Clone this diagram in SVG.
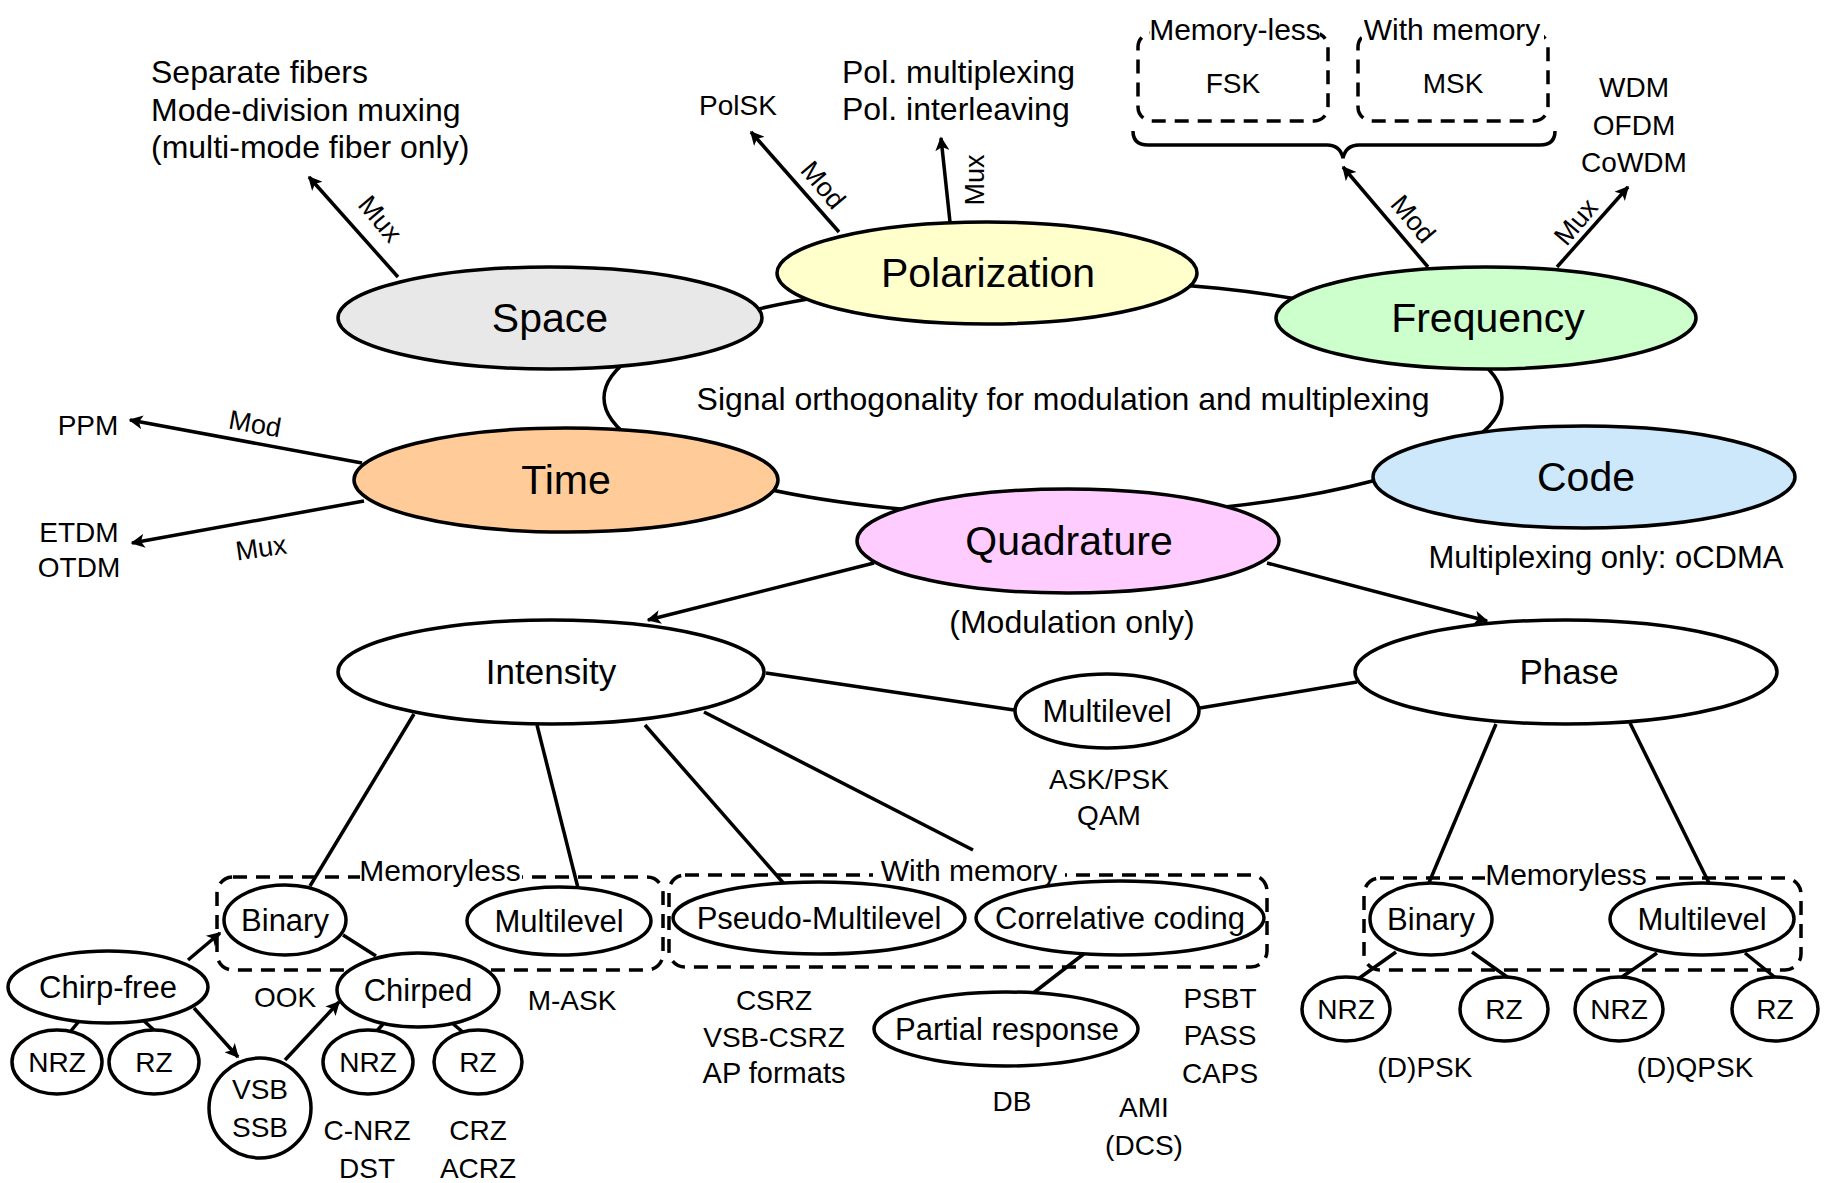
<svg xmlns="http://www.w3.org/2000/svg" width="1827" height="1183" viewBox="0 0 1827 1183">
<style>
text{font-family:"Liberation Sans",Arial,sans-serif;fill:#000}
.big{font-size:41px;text-anchor:middle}
.mid{font-size:35px;text-anchor:middle}
.sm{font-size:31px;text-anchor:middle}
.cap{font-size:28px;text-anchor:middle}
.t{font-size:30px}
.t2{font-size:32px}
.lab{font-size:27px;text-anchor:middle}
.e{stroke:#000;stroke-width:3.5}
.w{fill:#fff}
.ln{stroke:#000;stroke-width:3.5;fill:none}
.ar{stroke:#000;stroke-width:3.5;fill:none;marker-end:url(#ah)}
.dash{stroke:#000;stroke-width:3.5;fill:none;stroke-dasharray:14 9}
.bg{fill:#fff}
</style>
<defs>
<marker id="ah" viewBox="0 0 10 10" refX="9" refY="5" markerWidth="17" markerHeight="14" markerUnits="userSpaceOnUse" orient="auto">
<path d="M0,0 L10,5 L0,10 L2.5,5 z" fill="#000"/>
</marker>
</defs>
<rect width="1827" height="1183" fill="#fff"/>

<g id="boxes">
<rect class="dash" x="1138" y="33" width="190" height="88" rx="14"/>
<rect class="dash" x="1358" y="33" width="190" height="88" rx="14"/>
<rect class="bg" x="1150" y="15" width="170" height="32"/>
<rect class="bg" x="1362" y="15" width="182" height="32"/>
<path class="ln" d="M1133,131 Q1133,145 1148,145 L1327,145 Q1340,145 1343,158 Q1346,145 1359,145 L1540,145 Q1555,145 1555,131"/>
<rect class="dash" x="217" y="877" width="446" height="93" rx="16"/>
<rect class="dash" x="669" y="875" width="598" height="92" rx="16"/>
<rect class="dash" x="1364" y="878" width="437" height="92" rx="16"/>
<rect class="bg" x="360" y="862" width="162" height="26"/>
<rect class="bg" x="873" y="862" width="192" height="26"/>
<rect class="bg" x="1485" y="865" width="162" height="26"/>
</g>

<g id="connectors">
<ellipse class="ln" cx="1053" cy="398" rx="449" ry="118"/>
<line class="ar" x1="398" y1="277" x2="309" y2="177"/>
<line class="ar" x1="839" y1="232" x2="751" y2="132"/>
<line class="ar" x1="950" y1="222" x2="941" y2="138"/>
<line class="ar" x1="1428" y1="267" x2="1343" y2="167"/>
<line class="ar" x1="1557" y1="267" x2="1628" y2="187"/>
<line class="ar" x1="362" y1="463" x2="130" y2="420"/>
<line class="ar" x1="364" y1="501" x2="132" y2="543"/>
<line class="ar" x1="874" y1="563" x2="648" y2="620"/>
<line class="ar" x1="1267" y1="563" x2="1487" y2="621"/>
<line class="ln" x1="766" y1="673" x2="1014" y2="710"/>
<line class="ln" x1="1200" y1="708" x2="1357" y2="682"/>
<line class="ln" x1="414" y1="714" x2="310" y2="886"/>
<line class="ln" x1="537" y1="725" x2="578" y2="888"/>
<line class="ln" x1="645" y1="725" x2="786" y2="886"/>
<line class="ln" x1="704" y1="712" x2="973" y2="850"/>
<line class="ar" x1="188" y1="960" x2="220" y2="933"/>
<line class="ln" x1="343" y1="935" x2="376" y2="956"/>
<line class="ln" x1="80" y1="1020" x2="70" y2="1032"/>
<line class="ln" x1="143" y1="1020" x2="156" y2="1032"/>
<line class="ln" x1="383" y1="1024" x2="376" y2="1032"/>
<line class="ln" x1="452" y1="1023" x2="464" y2="1033"/>
<line class="ar" x1="194" y1="1008" x2="238" y2="1057"/>
<line class="ar" x1="285" y1="1060" x2="339" y2="1002"/>
<line class="ln" x1="1085" y1="953" x2="1032" y2="994"/>
<line class="ln" x1="1496" y1="724" x2="1428" y2="885"/>
<line class="ln" x1="1630" y1="723" x2="1710" y2="885"/>
<line class="ln" x1="1396" y1="952" x2="1358" y2="979"/>
<line class="ln" x1="1472" y1="952" x2="1510" y2="979"/>
<line class="ln" x1="1657" y1="953" x2="1619" y2="979"/>
<line class="ln" x1="1745" y1="953" x2="1777" y2="979"/>
</g>

<g id="edge-labels">
<text class="lab" transform="translate(380,219) rotate(50)" dy="9">Mux</text>
<text class="lab" transform="translate(823,185) rotate(50)" dy="9">Mod</text>
<text class="lab" transform="translate(975,180) rotate(-90)" dy="9">Mux</text>
<text class="lab" transform="translate(1413,219) rotate(50)" dy="9">Mod</text>
<text class="lab" transform="translate(1576,222) rotate(-50)" dy="9">Mux</text>
<text class="lab" transform="translate(255,424) rotate(10)" dy="9">Mod</text>
<text class="lab" transform="translate(261,548) rotate(-8)" dy="9">Mux</text>
</g>

<g id="n-space"><ellipse class="e" cx="550" cy="318" rx="212" ry="51" fill="#e8e8e8"/><text class="big" x="550" y="332">Space</text></g>
<g id="n-polarization"><ellipse class="e" cx="987" cy="273" rx="210" ry="51" fill="#ffffcc"/><text class="big" x="988" y="287">Polarization</text></g>
<g id="n-frequency"><ellipse class="e" cx="1486" cy="318" rx="210" ry="51" fill="#ccffcc"/><text class="big" x="1488" y="332">Frequency</text></g>
<g id="n-time"><ellipse class="e" cx="566" cy="480" rx="212" ry="52" fill="#ffcc99"/><text class="big" x="566" y="494">Time</text></g>
<g id="n-code"><ellipse class="e" cx="1584" cy="477" rx="211" ry="51" fill="#cce8fa"/><text class="big" x="1586" y="491">Code</text></g>
<g id="n-quadrature"><ellipse class="e" cx="1068" cy="541" rx="211" ry="52" fill="#ffccff"/><text class="big" x="1069" y="555">Quadrature</text></g>
<g id="n-intensity"><ellipse class="e w" cx="551" cy="672" rx="213" ry="52"/><text class="mid" x="551" y="684">Intensity</text></g>
<g id="n-phase"><ellipse class="e w" cx="1566" cy="672" rx="211" ry="52"/><text class="mid" x="1569" y="684">Phase</text></g>
<g id="n-multilevel-mid"><ellipse class="e w" cx="1107" cy="711" rx="92" ry="37"/><text class="sm" x="1107" y="722">Multilevel</text></g>

<g id="n-binary-l"><ellipse class="e w" cx="285" cy="920" rx="61" ry="35"/><text class="sm" x="285" y="931">Binary</text></g>
<g id="n-multilevel-l"><ellipse class="e w" cx="559" cy="921" rx="92" ry="34"/><text class="sm" x="559" y="932">Multilevel</text></g>
<g id="n-pseudo"><ellipse class="e w" cx="819" cy="918" rx="146" ry="36"/><text class="sm" x="819" y="929">Pseudo-Multilevel</text></g>
<g id="n-correlative"><ellipse class="e w" cx="1120" cy="918" rx="144" ry="37"/><text class="sm" x="1120" y="929">Correlative coding</text></g>
<g id="n-chirpfree"><ellipse class="e w" cx="108" cy="987" rx="100" ry="36"/><text class="sm" x="108" y="998">Chirp-free</text></g>
<g id="n-chirped"><ellipse class="e w" cx="418" cy="990" rx="81" ry="37"/><text class="sm" x="418" y="1001">Chirped</text></g>
<g id="n-nrz1"><ellipse class="e w" cx="57" cy="1062" rx="45" ry="32"/><text class="cap" x="57" y="1072">NRZ</text></g>
<g id="n-rz1"><ellipse class="e w" cx="154" cy="1062" rx="45" ry="32"/><text class="cap" x="154" y="1072">RZ</text></g>
<g id="n-vsb"><ellipse class="e w" cx="260" cy="1108" rx="51" ry="50"/><text class="cap" x="260" y="1099">VSB</text><text class="cap" x="260" y="1137">SSB</text></g>
<g id="n-nrz2"><ellipse class="e w" cx="368" cy="1062" rx="45" ry="32"/><text class="cap" x="368" y="1072">NRZ</text></g>
<g id="n-rz2"><ellipse class="e w" cx="478" cy="1062" rx="44" ry="32"/><text class="cap" x="478" y="1072">RZ</text></g>
<g id="n-partial"><ellipse class="e w" cx="1006" cy="1029" rx="132" ry="37"/><text class="sm" x="1007" y="1040">Partial response</text></g>
<g id="n-binary-r"><ellipse class="e w" cx="1431" cy="919" rx="61" ry="36"/><text class="sm" x="1431" y="930">Binary</text></g>
<g id="n-multilevel-r"><ellipse class="e w" cx="1702" cy="919" rx="92" ry="36"/><text class="sm" x="1702" y="930">Multilevel</text></g>
<g id="n-nrz3"><ellipse class="e w" cx="1346" cy="1009" rx="44" ry="32"/><text class="cap" x="1346" y="1019">NRZ</text></g>
<g id="n-rz3"><ellipse class="e w" cx="1504" cy="1009" rx="44" ry="32"/><text class="cap" x="1504" y="1019">RZ</text></g>
<g id="n-nrz4"><ellipse class="e w" cx="1619" cy="1009" rx="44" ry="32"/><text class="cap" x="1619" y="1019">NRZ</text></g>
<g id="n-rz4"><ellipse class="e w" cx="1775" cy="1009" rx="43" ry="32"/><text class="cap" x="1775" y="1019">RZ</text></g>

<g id="annotations">
<text class="t2" x="151" y="83">Separate fibers</text>
<text class="t2" x="151" y="121">Mode-division muxing</text>
<text class="t2" x="151" y="158">(multi-mode fiber only)</text>
<text class="cap" x="738" y="115">PolSK</text>
<text class="t2" x="842" y="83">Pol. multiplexing</text>
<text class="t2" x="842" y="120">Pol. interleaving</text>
<text class="t" x="1235" y="40" text-anchor="middle">Memory-less</text>
<text class="t" x="1452" y="40" text-anchor="middle">With memory</text>
<text class="cap" x="1233" y="93">FSK</text>
<text class="cap" x="1453" y="93">MSK</text>
<text class="cap" x="1634" y="97">WDM</text>
<text class="cap" x="1634" y="135">OFDM</text>
<text class="cap" x="1634" y="172">CoWDM</text>
<text class="t2" x="1063" y="410" text-anchor="middle">Signal orthogonality for modulation and multiplexing</text>
<text class="cap" x="88" y="435">PPM</text>
<text class="cap" x="79" y="542">ETDM</text>
<text class="cap" x="79" y="577">OTDM</text>
<text class="sm" x="1606" y="568">Multiplexing only: oCDMA</text>
<text class="sm" x="1072" y="633" style="font-size:32px">(Modulation only)</text>
<text class="cap" x="1109" y="789">ASK/PSK</text>
<text class="cap" x="1109" y="825">QAM</text>
<text class="t" x="440" y="881" text-anchor="middle">Memoryless</text>
<text class="t" x="969" y="881" text-anchor="middle">With memory</text>
<text class="t" x="1566" y="885" text-anchor="middle">Memoryless</text>
<text class="cap" x="285" y="1007">OOK</text>
<text class="cap" x="572" y="1010">M-ASK</text>
<text class="cap" x="367" y="1140">C-NRZ</text>
<text class="cap" x="367" y="1178">DST</text>
<text class="cap" x="478" y="1140">CRZ</text>
<text class="cap" x="478" y="1178">ACRZ</text>
<text class="cap" x="774" y="1010">CSRZ</text>
<text class="cap" x="774" y="1047">VSB-CSRZ</text>
<text class="cap" x="774" y="1083" style="font-size:29px">AP formats</text>
<text class="cap" x="1220" y="1008">PSBT</text>
<text class="cap" x="1220" y="1045">PASS</text>
<text class="cap" x="1220" y="1083">CAPS</text>
<text class="cap" x="1012" y="1111">DB</text>
<text class="cap" x="1144" y="1117">AMI</text>
<text class="cap" x="1144" y="1155">(DCS)</text>
<text class="cap" x="1425" y="1077">(D)PSK</text>
<text class="cap" x="1695" y="1077">(D)QPSK</text>
</g>
</svg>
